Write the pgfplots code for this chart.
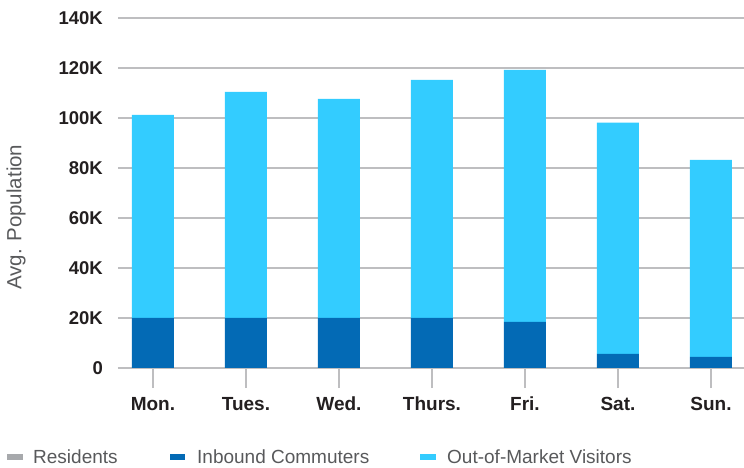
\documentclass[border=0pt]{standalone}
\usepackage{pgfplots}
\pgfplotsset{compat=1.18}
\usepackage{fontspec}
\setmainfont{Liberation Sans}
\definecolor{cdark}{HTML}{036AB5}
\definecolor{ccyan}{HTML}{33CCFF}
\definecolor{cgray}{HTML}{A7A9AC}
\definecolor{cgrid}{HTML}{BEBEC0}
\definecolor{ctick}{HTML}{231F20}
\definecolor{ctext}{HTML}{58595B}
\begin{document}
\begin{tikzpicture}
\useasboundingbox (-118pt,-100pt) rectangle (626pt,368pt);
\begin{axis}[
  scale only axis,
  width=626pt, height=350pt,
  ybar stacked, bar width=42pt,
  xmin=-0.376, xmax=6.355,
  ymin=0, ymax=140000,
  xtick={0,1,2,3,4,5,6},
  xticklabels={Mon.,Tues.,Wed.,Thurs.,Fri.,Sat.,Sun.},
  ytick={0,20000,40000,60000,80000,100000,120000,140000},
  yticklabels={0,20K,40K,60K,80K,100K,120K,140K},
  scaled y ticks=false,
  ymajorgrids,
  grid style={cgrid, line width=1.6pt},
  axis x line*=bottom, axis y line*=left,
  y axis line style={draw=none},
  x axis line style={cgrid, line width=1.6pt},
  ytick style={draw=none},
  xtick style={cgrid, line width=1.6pt},
  tick align=outside,
  major tick length=20pt,
  xticklabel style={font=\fontsize{19}{20}\selectfont\bfseries, text=ctick, inner sep=0pt, anchor=north, yshift=-9pt},
  yticklabel style={font=\fontsize{18.5}{20}\selectfont\bfseries, text=ctick, inner sep=0pt, anchor=east, xshift=5pt},
  ylabel={Avg. Population},
  ylabel style={font=\fontsize{20.5}{22}\selectfont, text=ctext, at={(axis description cs:-0.163,0.431)}, anchor=center},
]
\addplot[fill=cdark, draw=none] coordinates {(0,20000) (1,20000) (2,20000) (3,20000) (4,18400) (5,5600) (6,4400)};
\addplot[fill=ccyan, draw=none] coordinates {(0,81200) (1,90400) (2,87600) (3,95200) (4,100800) (5,92500) (6,78800)};
\end{axis}
% legend
\fill[cgray] (-111pt,-92pt) rectangle (-95pt,-86pt);
\node[anchor=base west, inner sep=0pt, text=ctext, font=\fontsize{19}{20}\selectfont] at (-85pt,-96pt) {Residents};
\fill[cdark] (52pt,-92pt) rectangle (67pt,-86pt);
\node[anchor=base west, inner sep=0pt, text=ctext, font=\fontsize{19}{20}\selectfont] at (79pt,-96pt) {Inbound Commuters};
\fill[ccyan] (302pt,-92pt) rectangle (318pt,-86pt);
\node[anchor=base west, inner sep=0pt, text=ctext, font=\fontsize{19}{20}\selectfont] at (329pt,-96pt) {Out-of-Market Visitors};
\end{tikzpicture}
\end{document}
